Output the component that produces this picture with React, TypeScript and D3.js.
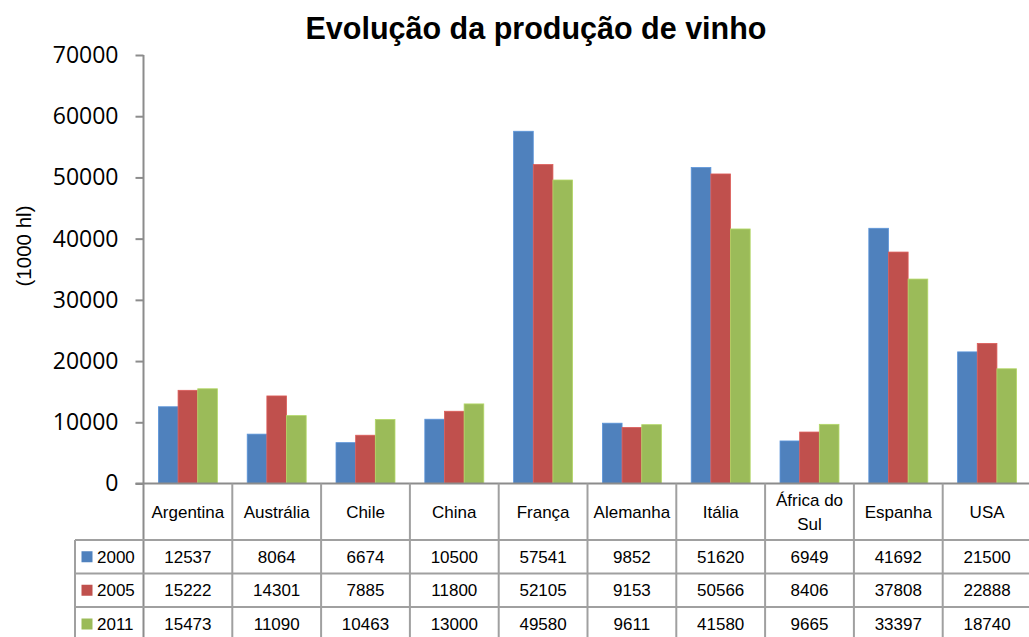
import React, { useRef, useEffect } from "react";
import * as d3 from "d3";

const countries = [
  "Argentina",
  "Austrália",
  "Chile",
  "China",
  "França",
  "Alemanha",
  "Itália",
  "África do Sul",
  "Espanha",
  "USA",
];
const years = ["2000", "2005", "2011"];
const values2000 = [12537, 8064, 6674, 10500, 57541, 9852, 51620, 6949, 41692, 21500];
const values2005 = [15222, 14301, 7885, 11800, 52105, 9153, 50566, 8406, 37808, 22888];
const values2011 = [15473, 11090, 10463, 13000, 49580, 9611, 41580, 9665, 33397, 18740];
const yTicks = [0, 10000, 20000, 30000, 40000, 50000, 60000, 70000];
const colors = ["#4F81BD", "#C0504D", "#9BBB59"];

const series = [values2000, values2005, values2011];

export default function App() {
  const totalWidth = 1029;
  const totalHeight = 637;
  const axisX = 143.5;
  const zeroY = 483.5;
  const topY = 55;
  const step = 88.8;

  const yAxisRef = useRef(null);

  const xScale = d3
    .scaleBand()
    .domain(countries)
    .range([axisX, axisX + step * countries.length])
    .paddingInner(0.336)
    .paddingOuter(0.168);

  const subScale = d3.scaleBand().domain(years).range([0, xScale.bandwidth()]);

  const yScale = d3.scaleLinear().domain([0, 70000]).range([zeroY, topY]);

  useEffect(() => {
    if (yAxisRef.current) {
      const yAxis = d3
        .axisLeft(yScale)
        .tickValues(yTicks)
        .tickSize(8)
        .tickPadding(17)
        .tickFormat(d3.format("d"));
      const g = d3.select(yAxisRef.current).call(yAxis);
      g.select(".domain").remove();
      g.selectAll(".tick line").attr("stroke", "#8c8c8c").attr("stroke-width", 2);
      g.selectAll(".tick text")
        .attr("fill", "#000")
        .style("font-family", "'Open Sans', sans-serif")
        .style("font-size", "23px");
    }
  }, [yScale]);

  // table geometry
  const headerTop = zeroY;
  const headerBottom = 540;
  const rowEdges = [540, 573.5, 607, 641];
  const legendLeft = 75;
  const tableRight = axisX + step * countries.length;
  const gridColor = "#a0a0a0";
  const boundaries = countries.map((c, i) => axisX + step * i);
  const tableFont = { fontFamily: "'Liberation Sans', Arial, sans-serif", fontSize: 17, fill: "#000" };

  return (
    <svg
      width={totalWidth}
      height={totalHeight}
      style={{ position: "absolute", left: 0, top: 0, background: "#fff" }}
    >
      <text
        x={536}
        y={39}
        textAnchor="middle"
        style={{
          fontFamily: "'Liberation Sans', Arial, sans-serif",
          fontWeight: "bold",
          fontSize: 30.5,
          fill: "#000",
        }}
      >
        Evolução da produção de vinho
      </text>

      <text
        transform={`translate(31, 246) rotate(-90)`}
        textAnchor="middle"
        style={{
          fontFamily: "'Liberation Sans', Arial, sans-serif",
          fontSize: 20.5,
          fill: "#000",
        }}
      >
        (1000 hl)
      </text>

      {/* bars */}
      {countries.map((c, i) => (
        <g key={c} transform={`translate(${xScale(c)}, 0)`}>
          {series.map((vals, s) => (
            <rect
              key={years[s]}
              x={subScale(years[s])}
              y={yScale(vals[i])}
              width={subScale.bandwidth()}
              height={zeroY - yScale(vals[i])}
              fill={colors[s]}
              stroke={d3.color(colors[s]).brighter(0.4).formatHex()}
              strokeWidth={0.8}
            />
          ))}
        </g>
      ))}

      <g ref={yAxisRef} transform={`translate(${axisX}, 0)`} />

      {/* axis lines */}
      <line x1={axisX} y1={topY} x2={axisX} y2={totalHeight} stroke="#8c8c8c" strokeWidth={2} />
      <line x1={axisX - 8} y1={zeroY} x2={tableRight} y2={zeroY} stroke="#8c8c8c" strokeWidth={2} />

      {/* data table grid */}
      {boundaries.slice(1).map((bx, i) => (
        <line key={i} x1={bx} y1={headerTop} x2={bx} y2={totalHeight} stroke={gridColor} strokeWidth={2} />
      ))}
      {rowEdges.slice(0, 3).map((ry, i) => (
        <line key={i} x1={legendLeft} y1={ry} x2={tableRight} y2={ry} stroke={gridColor} strokeWidth={2} />
      ))}
      <line x1={legendLeft} y1={headerBottom} x2={legendLeft} y2={totalHeight} stroke={gridColor} strokeWidth={2} />

      {/* header labels */}
      {countries.map((c) => {
        const cx = xScale(c) + xScale.bandwidth() / 2;
        const words = c === "África do Sul" ? ["África do", "Sul"] : [c];
        return (
          <text key={c} textAnchor="middle" style={tableFont}>
            {words.map((w, k) => (
              <tspan key={k} x={cx} y={words.length > 1 ? 506 + k * 24 : 518}>
                {w}
              </tspan>
            ))}
          </text>
        );
      })}

      {/* table rows */}
      {series.map((vals, s) => {
        const mid = (rowEdges[s] + rowEdges[s + 1]) / 2;
        return (
          <g key={years[s]}>
            <rect x={81.5} y={mid - 5.5} width={11} height={11} fill={colors[s]} />
            <text x={97} y={mid + 6} style={tableFont}>
              {years[s]}
            </text>
            {countries.map((c, i) => (
              <text
                key={c}
                x={xScale(c) + xScale.bandwidth() / 2}
                y={mid + 6}
                textAnchor="middle"
                style={tableFont}
              >
                {vals[i]}
              </text>
            ))}
          </g>
        );
      })}
    </svg>
  );
}
